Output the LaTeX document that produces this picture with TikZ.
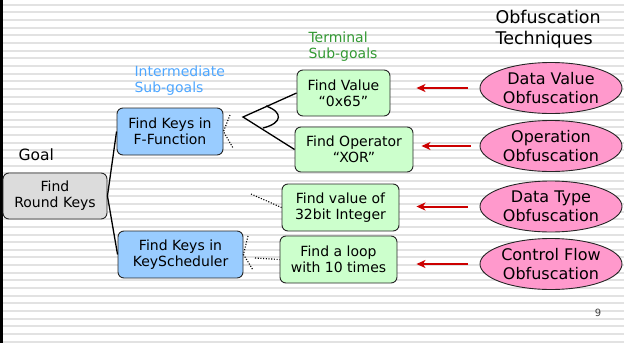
\documentclass[tikz,border=0pt]{standalone}
\usepackage{fontspec}
\setmainfont{DejaVu Sans}
\usepackage{tikz}
\usetikzlibrary{arrows,arrows.meta,shapes.geometric}
\definecolor{goalgrey}{HTML}{DCDCDC}
\definecolor{midblue}{HTML}{99CCFF}
\definecolor{termgreen}{HTML}{CCFFCC}
\definecolor{techpink}{HTML}{FF99CC}
\definecolor{midtext}{HTML}{4DA6FF}
\definecolor{termtext}{HTML}{339933}
\definecolor{arrowred}{HTML}{CC0000}
\definecolor{stripe}{HTML}{E2E2E2}

\begin{document}
\begin{tikzpicture}[x=1pt,y=-1pt,>=stealth']
\tikzstyle{every node} = [font = \fontsize{14}{16}\selectfont, align=center]
\tikzstyle{goalbox} = [rectangle, rounded corners=6pt, draw=black!85, line width=0.9pt, inner sep=0pt]
\tikzstyle{technique} = [ellipse, draw=black!85, line width=0.9pt, fill=techpink, inner sep=0pt, minimum width=142, minimum height=51, font=\fontsize{16}{19}\selectfont]
\tikzstyle{branch} = [line width=1.3pt]
\tikzstyle{stub} = [line width=1.1pt, dash pattern=on 1.1pt off 1.6pt]
\tikzstyle{redarrow} = [-{Stealth[length=9pt,width=8pt,inset=2.5pt]}, arrowred, line width=2pt]
	\useasboundingbox (0,0) rectangle (624,343);
	% striped slide background
	\foreach \i in {0,...,44}
		\fill[stripe] (3,3.7+7.66*\i) rectangle (624,5.7+7.66*\i);
	\fill[black] (0,0) rectangle (3,343);

	% headings
	\node [anchor=west] (goal) at (15,155) {\fontsize{15.5}{18}\selectfont Goal};
	\node [anchor=west, align=left, text=midtext] (midlabel) at (131,81) {Intermediate\\Sub-goals};
	\node [anchor=west, align=left, text=termtext] (termlabel) at (305,47) {Terminal\\Sub-goals};
	\node [anchor=west, align=left, font=\fontsize{17.5}{21}\selectfont] (techlabel) at (492,29) {Obfuscation\\Techniques};

	% goal tree
	\node [goalbox, fill=goalgrey, minimum width=104, minimum height=46] (roundkeys) at (55,196) {Find\\Round Keys};
	\node [goalbox, fill=midblue, minimum width=106, minimum height=47] (ffunc) at (170,131.5) {Find Keys in\\F-Function};
	\node [goalbox, fill=midblue, minimum width=125, minimum height=47] (keysched) at (180.5,254.5) {Find Keys in\\KeyScheduler};
	\node [goalbox, fill=termgreen, minimum width=93, minimum height=46] (value) at (343.5,93) {Find Value\\“0x65”};
	\node [goalbox, fill=termgreen, minimum width=118, minimum height=45] (operator) at (354,149.5) {Find Operator\\“XOR”};
	\node [goalbox, fill=termgreen, minimum width=117, minimum height=47] (integer) at (340.5,207.5) {Find value of\\32bit Integer};
	\node [goalbox, fill=termgreen, minimum width=117, minimum height=47] (loop) at (338.5,259.5) {Find a loop\\with 10 times};

	\draw [branch] (roundkeys.east) -- (ffunc.west);
	\draw [branch] (roundkeys.east) -- (keysched.west);
	\coordinate (andfork) at (243,117);
	\draw [branch] (value.west) -- (andfork) -- (operator.west);
	\draw [branch] (266,106) .. controls (283,112) and (283,123) .. (263,128);

	% open branches
	\coordinate (ffuncup) at (230,115);
	\coordinate (ffuncdown) at (233,148);
	\coordinate (schedup) at (248,236);
	\coordinate (scheddown) at (253,270);
	\coordinate (intfree) at (251,194);
	\coordinate (loopfree) at (255,258);
	\draw [stub] (ffuncup) -- (ffunc.east) -- (ffuncdown);
	\draw [stub] (schedup) -- (keysched.east) -- (scheddown);
	\draw [stub] (intfree) -- (integer.west);
	\draw [stub] (loopfree) -- (loop.west);

	% obfuscation techniques
	\node [technique] (datavalue) at (551,88) {Data Value\\Obfuscation};
	\node [technique] (operation) at (551,146) {Operation\\Obfuscation};
	\node [technique] (datatype) at (551,206.5) {Data Type\\Obfuscation};
	\node [technique] (controlflow) at (551,264) {Control Flow\\Obfuscation};

	\draw [redarrow, shorten <=12pt, shorten >=26pt] (datavalue.west) -- (datavalue.west -| value.east);
	\draw [redarrow, shorten <=9pt, shorten >=8pt] (operation.west) -- (operation.west -| operator.east);
	\draw [redarrow, shorten <=12pt, shorten >=17pt] (datatype.west) -- (datatype.west -| integer.east);
	\draw [redarrow, shorten <=12pt, shorten >=19pt] (controlflow.west) -- (controlflow.west -| loop.east);

	\node [font=\fontsize{10}{12}\selectfont, text=black!75] (pagenum) at (598,313) {9};
\end{tikzpicture}
\end{document}
